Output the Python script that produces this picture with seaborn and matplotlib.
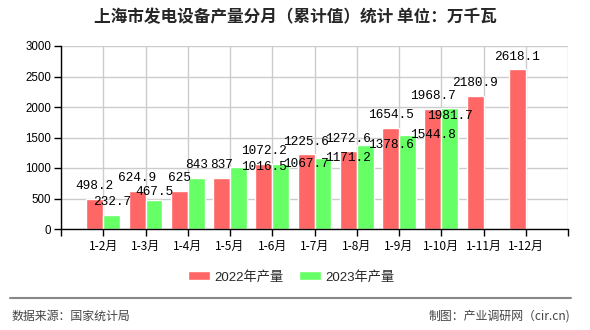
import numpy as np
import pandas as pd
import matplotlib
matplotlib.use("Agg")
import matplotlib.pyplot as plt
from matplotlib.lines import Line2D
import seaborn as sns

months = ["1-2月", "1-3月", "1-4月", "1-5月", "1-6月", "1-7月", "1-8月",
          "1-9月", "1-10月", "1-11月", "1-12月"]
prod_2022 = [498.2, 624.9, 625, 837, 1072.2, 1225.6, 1272.6, 1654.5, 1968.7, 2180.9, 2618.1]
prod_2023 = [232.7, 467.5, 843, 1016.5, 1067.7, 1171.2, 1378.6, 1544.8, 1981.7, np.nan, np.nan]
series_names = ["2022年产量", "2023年产量"]
yticks = [0, 500, 1000, 1500, 2000, 2500, 3000]
title = "上海市发电设备产量分月（累计值）统计 单位：万千瓦"
source_text = "数据来源：国家统计局"
maker_text = "制图：产业调研网（cir.cn)"

RED = "#FF6666"
GREEN = "#66FF66"

sns.set_style("white")
plt.rcParams["font.family"] = ["Liberation Sans", "Noto Sans CJK SC", "DejaVu Sans"]

df = pd.DataFrame({
    "month": months * 2,
    "series": [series_names[0]] * len(months) + [series_names[1]] * len(months),
    "value": prod_2022 + prod_2023,
})

W, H = 590, 330
fig = plt.figure(figsize=(W / 100, H / 100), dpi=100)
ax = fig.add_axes([61 / W, (H - 229) / H, (568 - 61) / W, (229 - 46) / H])

sns.barplot(data=df, x="month", y="value", hue="series", order=months,
            hue_order=series_names, palette=[RED, GREEN], width=0.8,
            saturation=1, ax=ax, legend=True)

ax.set_xlim(-1, len(months))
ax.set_ylim(0, 3000)
ax.set_xticks(range(-1, len(months) + 1))
ax.set_xticklabels([""] + months + [""], fontsize=8.6,
                   family=["Noto Sans CJK SC", "DejaVu Sans"])
ax.set_yticks(yticks)
ax.set_yticklabels([str(t) for t in yticks], fontsize=8.3)
ax.set_xlabel("")
ax.set_ylabel("")
ax.set_axisbelow(True)
ax.grid(True, color="#cccccc", lw=1)
for s in ["top", "right"]:
    ax.spines[s].set_visible(False)
for s in ["left", "bottom"]:
    ax.spines[s].set_color("black")
    ax.spines[s].set_linewidth(1)
ax.tick_params(axis="y", length=5, width=1, pad=2, colors="black", left=True)
ax.tick_params(axis="x", length=5, width=1, pad=3, colors="black", bottom=True)

# legend
handles, labels = ax.get_legend_handles_labels()
ax.get_legend().remove()
fig.legend(handles, labels, loc="center", bbox_to_anchor=(291 / W, 1 - 277 / H),
           ncol=2, frameon=False, handlelength=1.67, handleheight=0.7,
           handletextpad=0.3, columnspacing=1.2,
           prop={"size": 9.5, "family": ["Liberation Sans", "Noto Sans CJK SC"]})

# data labels
LBL_FONT = dict(fontsize=9.2, family=["Liberation Mono", "DejaVu Sans Mono"], color="black")
CHAR_W, LBL_H, OFF = 7.7, 12.0, 12.6
fmt = lambda v: f"{v:g}"
off = 0.2


def box(cx, cy, txt):
    w = len(txt) * CHAR_W
    return (cx - w / 2, cx + w / 2, cy - LBL_H / 2, cy + LBL_H / 2)


def overlap(a, b):
    hx = min(a[1], b[1]) - max(a[0], b[0])
    hy = min(a[3], b[3]) - max(a[2], b[2])
    return hy if hx > 0 else 0.0


red_boxes = []
for i, v in enumerate(prod_2022):
    px, py = ax.transData.transform((i - off, v))
    t = fmt(v)
    red_boxes.append(box(px, py + OFF, t))
    ax.annotate(t, xy=(i - off, v), xytext=(0, OFF), textcoords="offset pixels",
                ha="center", va="center", **LBL_FONT)

for i, v in enumerate(prod_2023):
    if np.isnan(v):
        continue
    t = fmt(v)
    px, py = ax.transData.transform((i + off, v))
    b = box(px, py + OFF, t)
    neighbours = [red_boxes[i]] + ([red_boxes[i + 1]] if i + 1 < len(red_boxes) else [])
    ov = [overlap(b, nb) for nb in neighbours]
    if max(ov) > 2.5:
        has_next_green = i + 1 < len(prod_2023) and not np.isnan(prod_2023[i + 1])
        if has_next_green:
            ax.annotate(t, xy=(i + 1 - off, v), xytext=(0, 0), textcoords="offset pixels",
                        ha="center", va="center", **LBL_FONT)
        else:
            ax.annotate(t, xy=(i + off, v), xytext=(0, -8), textcoords="offset pixels",
                        ha="center", va="center", **LBL_FONT)
    else:
        shift = (ov[0] + 1.5) if ov[0] > 0 else 0
        ax.annotate(t, xy=(i + off, v), xytext=(0, OFF - shift), textcoords="offset pixels",
                    ha="center", va="center", **LBL_FONT)

# title and footer
fig.text(295 / W, 1 - 17 / H, title, ha="center", va="center", fontsize=12,
         fontweight="bold", family=["Noto Sans CJK SC", "DejaVu Sans"])
fig.add_artist(Line2D([10 / W, 571 / W], [1 - 298 / H] * 2, color="#888888", lw=1.5))
fig.text(12 / W, 1 - 316 / H, source_text, ha="left", va="center", fontsize=8.6,
         color="#444444", family=["Noto Sans CJK SC", "DejaVu Sans"])
fig.text(570 / W, 1 - 316 / H, maker_text, ha="right", va="center", fontsize=8.6,
         color="#444444", family=["Noto Sans CJK SC", "DejaVu Sans"])

fig.savefig("out.png", dpi=100)
